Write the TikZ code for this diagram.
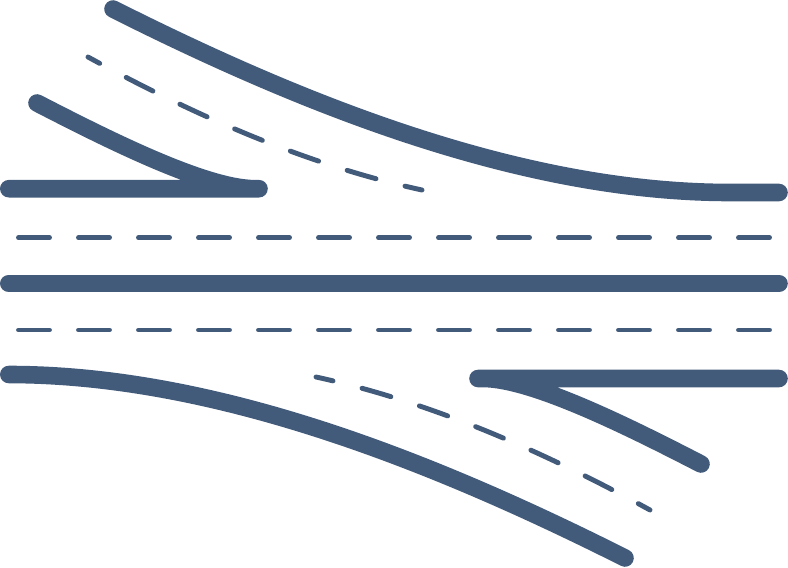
\documentclass[tikz,border=0pt]{standalone}
\definecolor{road}{HTML}{425B7B}
\tikzset{mid road/.style={draw=road,line width=13.2pt,line cap=round,line join=round},
dash road/.style={draw=road,line width=3.7pt,line cap=round},
lane dash/.style={dash road,dash pattern=on 23.25pt off 21.75pt},
ramp dash/.style={dash road,dash pattern=on 22.5pt off 22.5pt,dash phase=12.5pt}}
\begin{document}
\begin{tikzpicture}[x=0.75pt,y=-0.75pt]
\useasboundingbox (0,0) rectangle (788,567);
\coordinate (a1) at (113,9); \coordinate (a2) at (779,192.5);
\draw[mid road] (a1) .. controls (300,103) and (520,192.5) .. (730,192.5) -- (a2);
\coordinate (b1) at (37,103); \coordinate (b2) at (259,188.7); \coordinate (b3) at (8.8,188.7);
\draw[mid road] (b1) .. controls (105,138) and (205,188.7) .. (255,188.7) -- (b2) -- (b3);
\coordinate (c1) at (8.8,283.5); \coordinate (c2) at (779,283.5);
\draw[mid road] (c1) -- (c2);
\coordinate (d1) at (8.8,374.5); \coordinate (d2) at (625,558);
\draw[mid road] (d1) .. controls (218,374.5) and (438,464) .. (d2);
\coordinate (e1) at (779,378.5); \coordinate (e2) at (478,378.5); \coordinate (e3) at (701,464);
\draw[mid road] (e1) -- (e2) -- (483,378.5) .. controls (533,378.5) and (633,429) .. (e3);
\coordinate (f1) at (18.5,237.8); \coordinate (f2) at (770,237.8);
\draw[lane dash] (f1) -- (f2);
\coordinate (g1) at (18.5,330); \coordinate (g2) at (770,330);
\draw[lane dash] (g1) -- (g2);
\coordinate (h1) at (88,57); \coordinate (h2) at (422,190);
\draw[ramp dash] (h1) .. controls (199,118) and (311,166) .. (h2);
\coordinate (i1) at (650,510); \coordinate (i2) at (316,377);
\draw[ramp dash] (i1) .. controls (539,449) and (427,401) .. (i2);
\end{tikzpicture}
\end{document}
